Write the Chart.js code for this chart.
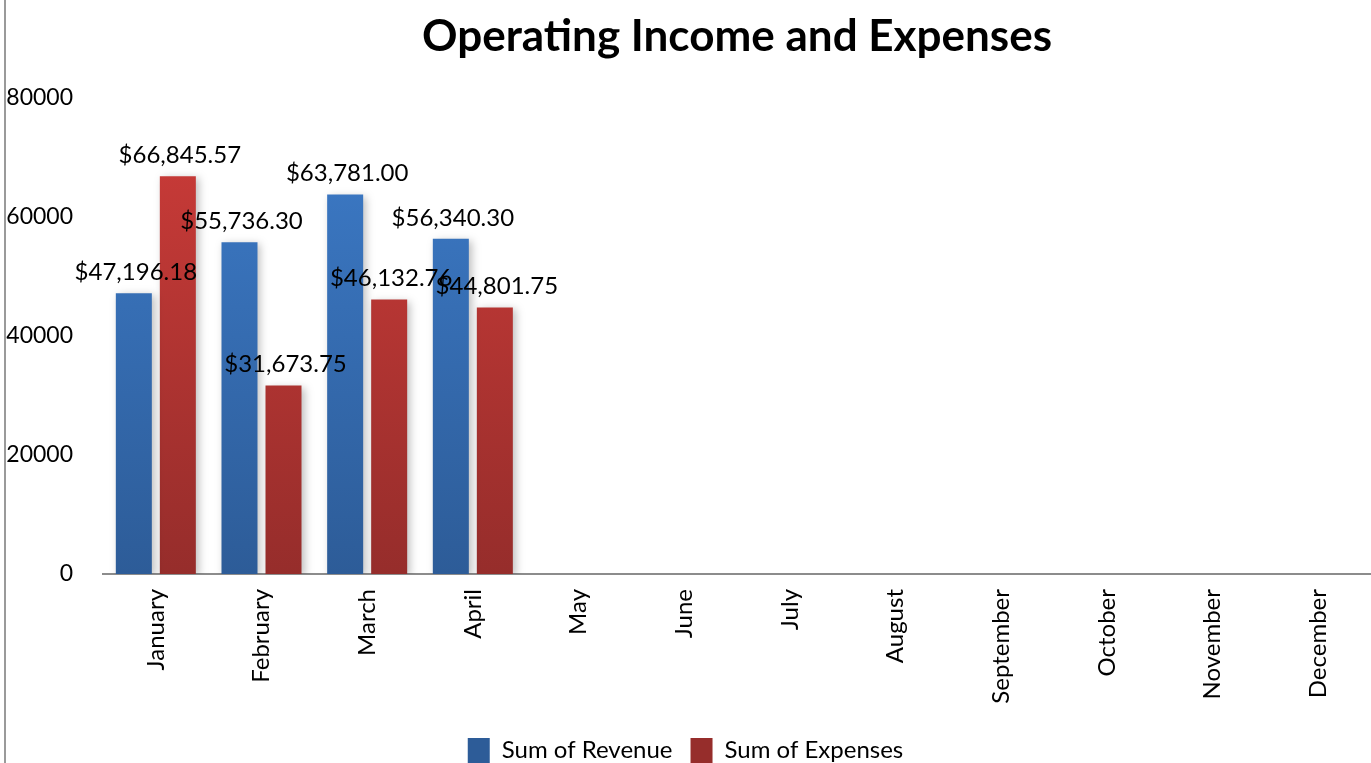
<!DOCTYPE html>
<html>
<head>
<meta charset="utf-8">
<title>Operating Income and Expenses</title>
<script src="https://cdn.jsdelivr.net/npm/chart.js@4.4.1/dist/chart.umd.min.js"></script>
<style>
  html, body { margin: 0; padding: 0; background: #fff; }
  #wrap { width: 1371px; height: 763px; position: relative; }
</style>
</head>
<body>
<div id="wrap"><canvas id="chart"></canvas></div>
<script>
// data
const months = ["January", "February", "March", "April", "May", "June",
    "July", "August", "September", "October", "November", "December"];
const revenue = [47196.18, 55736.30, 63781.00, 56340.30, null, null, null, null, null, null, null, null];
const expenses = [66845.57, 31673.75, 46132.76, 44801.75, null, null, null, null, null, null, null, null];
const yTicks = [0, 20000, 40000, 60000, 80000];
const titleText = "Operating Income and Expenses";

const FONT = "Lato, 'Open Sans', sans-serif";

function gradient(ctx, top, bottom) {
    const chart = ctx.chart;
    const area = chart.chartArea;
    if (!area) return top;
    const g = chart.ctx.createLinearGradient(0, area.top, 0, area.bottom);
    g.addColorStop(0, top);
    g.addColorStop(1, bottom);
    return g;
}

// left frame line + title centred over the plot area
const framePlugin = {
    id: "frame",
    beforeDraw(chart) {
        const c = chart.ctx;
        c.save();
        c.strokeStyle = "#9a9a9a";
        c.lineWidth = 2;
        c.beginPath();
        c.moveTo(5, 0);
        c.lineTo(5, chart.height);
        c.stroke();
        c.restore();
    },
    afterDraw(chart) {
        const c = chart.ctx;
        const a = chart.chartArea;
        c.save();
        c.font = "bold 44px " + FONT;
        c.fillStyle = "#000";
        c.textAlign = "center";
        c.textBaseline = "middle";
        c.fillText(titleText, (a.left + a.right) / 2, 37);
        c.restore();
    }
};

// soft shadow behind bars
const shadowPlugin = {
    id: "barShadow",
    beforeDatasetsDraw(chart) {
        const c = chart.ctx;
        c.save();
        c.shadowColor = "rgba(0,0,0,0.25)";
        c.shadowBlur = 8;
        c.shadowOffsetX = 3;
        c.shadowOffsetY = 2;
    },
    afterDatasetsDraw(chart) {
        chart.ctx.restore();
    }
};

// value labels above the bars
const labelPlugin = {
    id: "valueLabels",
    afterDatasetsDraw(chart) {
        const c = chart.ctx;
        c.save();
        c.font = "24px " + FONT;
        c.fillStyle = "#000";
        c.textAlign = "center";
        c.textBaseline = "middle";
        chart.data.datasets.forEach((ds, i) => {
            const meta = chart.getDatasetMeta(i);
            meta.data.forEach((bar, j) => {
                const v = ds.data[j];
                if (v == null) return;
                const txt = "$" + v.toLocaleString("en-US", { minimumFractionDigits: 2, maximumFractionDigits: 2 });
                c.fillText(txt, bar.x + 2, bar.y - 21);
            });
        });
        c.restore();
    }
};

const chart = new Chart(document.getElementById("chart").getContext("2d"), {
    type: "bar",
    data: {
        labels: months,
        datasets: [{
            label: "Sum of Revenue",
            data: revenue,
            backgroundColor: (ctx) => gradient(ctx, "#3d7cca", "#2d5c98"),
            borderWidth: 0
        }, {
            label: "Sum of Expenses",
            data: expenses,
            backgroundColor: (ctx) => gradient(ctx, "#ce3c39", "#962d2b"),
            borderWidth: 0
        }]
    },
    options: {
        responsive: true,
        maintainAspectRatio: false,
        animation: false,
        devicePixelRatio: 1,
        layout: { padding: { left: 0, right: 0, top: 98, bottom: -10 } },
        datasets: {
            bar: { categoryPercentage: 0.833, barPercentage: 0.818 }
        },
        scales: {
            x: {
                grid: { display: false },
                border: { display: true, color: "#8c8c8c", width: 2 },
                ticks: {
                    color: "#000",
                    font: { family: FONT, size: 24 },
                    minRotation: 90,
                    maxRotation: 90,
                    autoSkip: false,
                    padding: 7
                },
                afterFit(scale) { scale.height = 146; }
            },
            y: {
                min: 0,
                max: 80000,
                afterBuildTicks(scale) { scale.ticks = yTicks.map(v => ({ value: v })); },
                grid: { display: false },
                border: { display: false },
                ticks: {
                    color: "#000",
                    font: { family: FONT, size: 23 },
                    padding: 22,
                    callback: (v) => String(v)
                },
                afterFit(scale) { scale.width = 103; }
            }
        },
        plugins: {
            title: { display: false },
            legend: {
                position: "bottom",
                labels: {
                    color: "#000",
                    font: { family: FONT, size: 24 },
                    boxWidth: 22,
                    boxHeight: 25,
                    padding: 18
                }
            },
            tooltip: { enabled: false }
        }
    },
    plugins: [framePlugin, shadowPlugin, labelPlugin]
});
</script>
</body>
</html>
